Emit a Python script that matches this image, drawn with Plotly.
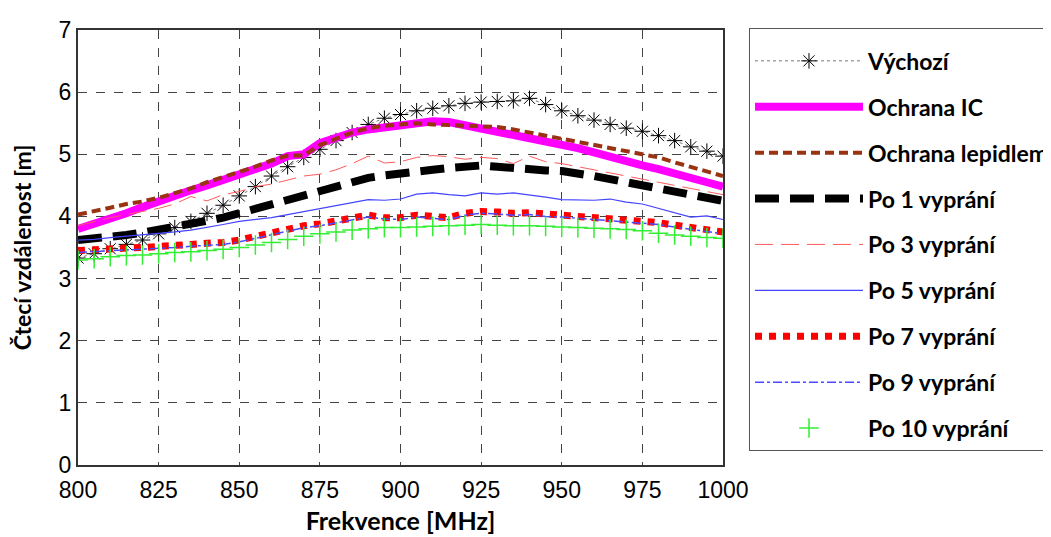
import plotly.graph_objects as go

freq = [800, 805, 810, 815, 820, 825, 830, 835, 840, 845, 850, 855, 860, 865, 870, 875, 880, 885, 890, 895,
        900, 905, 910, 915, 920, 925, 930, 935, 940, 945, 950, 955, 960, 965, 970, 975, 980, 985, 990, 995, 1000]

vychozi = [3.33, 3.40, 3.48, 3.55, 3.62, 3.72, 3.82, 3.92, 4.05, 4.18, 4.33, 4.48, 4.65, 4.80, 4.95, 5.08, 5.22, 5.35, 5.48, 5.58,
           5.64, 5.70, 5.74, 5.78, 5.82, 5.84, 5.85, 5.86, 5.90, 5.80, 5.70, 5.62, 5.55, 5.48, 5.42, 5.37, 5.30, 5.22, 5.12, 5.05, 4.97]
ochrana_ic = [3.80, 3.88, 3.95, 4.05, 4.15, 4.25, 4.33, 4.42, 4.50, 4.58, 4.67, 4.75, 4.85, 4.97, 5.00, 5.18, 5.28, 5.35, 5.40, 5.44,
              5.48, 5.50, 5.53, 5.52, 5.47, 5.42, 5.38, 5.33, 5.27, 5.22, 5.17, 5.10, 5.03, 4.95, 4.88, 4.82, 4.76, 4.70, 4.63, 4.55, 4.48]
ochrana_lep = [4.03, 4.08, 4.14, 4.20, 4.24, 4.30, 4.38, 4.45, 4.55, 4.63, 4.72, 4.80, 4.90, 4.98, 4.98, 5.15, 5.25, 5.35, 5.42, 5.46,
               5.48, 5.50, 5.48, 5.47, 5.46, 5.45, 5.44, 5.40, 5.35, 5.30, 5.26, 5.20, 5.15, 5.10, 5.05, 5.00, 4.95, 4.87, 4.80, 4.72, 4.65]
po1 = [3.62, 3.64, 3.66, 3.70, 3.74, 3.78, 3.83, 3.88, 3.93, 3.98, 4.05, 4.12, 4.20, 4.28, 4.35, 4.42, 4.50, 4.56, 4.62, 4.66,
       4.70, 4.72, 4.75, 4.78, 4.80, 4.82, 4.80, 4.77, 4.75, 4.74, 4.73, 4.70, 4.65, 4.60, 4.55, 4.50, 4.45, 4.40, 4.35, 4.30, 4.25]
po3 = [3.85, 3.92, 3.98, 4.03, 4.08, 4.13, 4.20, 4.32, 4.25, 4.35, 4.40, 4.48, 4.52, 4.58, 4.65, 4.68, 4.75, 4.85, 4.97, 4.86,
       4.88, 4.95, 4.98, 4.96, 4.92, 4.95, 4.93, 4.85, 4.97, 4.88, 4.85, 4.80, 4.75, 4.70, 4.65, 4.60, 4.55, 4.50, 4.45, 4.40, 4.35]
po5 = [3.62, 3.63, 3.66, 3.68, 3.70, 3.72, 3.75, 3.78, 3.82, 3.87, 3.92, 3.95, 3.98, 4.03, 4.08, 4.13, 4.17, 4.22, 4.27, 4.26,
       4.28, 4.36, 4.38, 4.35, 4.33, 4.38, 4.36, 4.38, 4.35, 4.31, 4.27, 4.27, 4.26, 4.28, 4.23, 4.20, 4.13, 4.05, 3.99, 4.01, 3.95]
po7 = [3.45, 3.47, 3.48, 3.49, 3.50, 3.51, 3.53, 3.55, 3.57, 3.58, 3.62, 3.68, 3.74, 3.80, 3.85, 3.88, 3.93, 3.98, 4.02, 3.98,
       3.98, 4.02, 4.00, 3.98, 4.05, 4.08, 4.07, 4.05, 4.06, 4.03, 4.02, 4.00, 3.98, 3.96, 3.95, 3.93, 3.90, 3.86, 3.82, 3.78, 3.75]
po9 = [3.42, 3.44, 3.45, 3.46, 3.47, 3.48, 3.50, 3.52, 3.54, 3.55, 3.59, 3.65, 3.71, 3.77, 3.82, 3.85, 3.90, 3.95, 3.99, 3.96,
       3.95, 3.99, 3.97, 3.95, 4.02, 4.05, 4.04, 4.02, 4.03, 4.00, 3.99, 3.97, 3.95, 3.93, 3.92, 3.90, 3.87, 3.83, 3.79, 3.75, 3.72]
po10 = [3.30, 3.32, 3.35, 3.37, 3.38, 3.40, 3.42, 3.43, 3.45, 3.47, 3.50, 3.54, 3.58, 3.63, 3.68, 3.72, 3.75, 3.78, 3.80, 3.82,
        3.82, 3.83, 3.84, 3.85, 3.86, 3.87, 3.86, 3.85, 3.85, 3.84, 3.83, 3.82, 3.81, 3.80, 3.79, 3.77, 3.73, 3.70, 3.68, 3.66, 3.65]

x_ticks = [800, 825, 850, 875, 900, 925, 950, 975, 1000]
y_ticks = [0, 1, 2, 3, 4, 5, 6, 7]

fig = go.Figure()

def add(name, y, **kw):
    fig.add_trace(go.Scatter(x=freq, y=y, name=name, legendgroup=name, **kw))

add("Výchozí", vychozi, mode="lines+markers",
    line=dict(color="#777777", width=1, dash="dot"),
    marker=dict(symbol="asterisk-open", size=13, color="black", line=dict(color="black", width=1)))
add("Ochrana IC", ochrana_ic, mode="lines", line=dict(color="#ff00ff", width=8))
add("Ochrana lepidlem", ochrana_lep, mode="lines", line=dict(color="#993311", width=4, dash="9px,5px"))
add("Po 1 vyprání", po1, mode="lines", line=dict(color="black", width=8, dash="24px,11px"))
add("Po 3 vyprání", po3, mode="lines", line=dict(color="#ff5a5a", width=1, dash="18px,8px"))
add("Po 5 vyprání", po5, mode="lines", line=dict(color="#4444ff", width=1.2))
add("Po 7 vyprání", po7, mode="lines", line=dict(color="#ff0000", width=7, dash="7px,7px"))
add("Po 9 vyprání", po9, mode="lines", line=dict(color="#4a4aff", width=1.5, dash="dashdot"))
add("Po 10 vyprání", po10, mode="markers",
    marker=dict(symbol="cross-thin-open", size=14, color="#33ee33", line=dict(color="#33ee33", width=1.5)))

tick_font = dict(family="Liberation Sans Narrow, Liberation Sans, Arial", size=23, color="black")

fig.update_layout(
    width=1043, height=529,
    margin=dict(l=70, r=328, t=22, b=72, autoexpand=False),
    plot_bgcolor="white", paper_bgcolor="white",
    showlegend=True,
    legend=dict(
        x=1.0403, y=1.0046, xanchor="left", yanchor="top",
        bordercolor="#555555", borderwidth=1, bgcolor="white",
        font=dict(family="Lato, Open Sans, Arial", size=23, color="black", weight="bold"),
        itemwidth=108, tracegroupgap=13, maxheight=700,
        title=dict(text=" ", font=dict(size=8)),
    ),
    xaxis=dict(
        range=[800, 1000], tickvals=x_ticks, ticktext=[str(v) for v in x_ticks],
        showgrid=True, gridcolor="#444444", griddash="dash", gridwidth=1,
        showline=True, linecolor="#333333", linewidth=2, mirror=True,
        ticks="", tickfont=tick_font, ticklabelstandoff=3, automargin=False,
        title=dict(text="<b>Frekvence [MHz]</b>",
                   font=dict(family="Lato, Open Sans, Arial", size=25, color="black"), standoff=11),
        zeroline=False,
    ),
    yaxis=dict(
        range=[0, 7], tickvals=y_ticks,
        showgrid=True, gridcolor="#444444", griddash="dash", gridwidth=1,
        showline=True, linecolor="#333333", linewidth=2, mirror=True,
        ticks="", tickfont=tick_font, ticklabelstandoff=0, automargin=False,
        title=dict(text="<b>Čtecí vzdálenost [m]</b>",
                   font=dict(family="Lato, Open Sans, Arial", size=23, color="black"), standoff=30),
        zeroline=False,
    ),
)

fig.write_html("out.html")
